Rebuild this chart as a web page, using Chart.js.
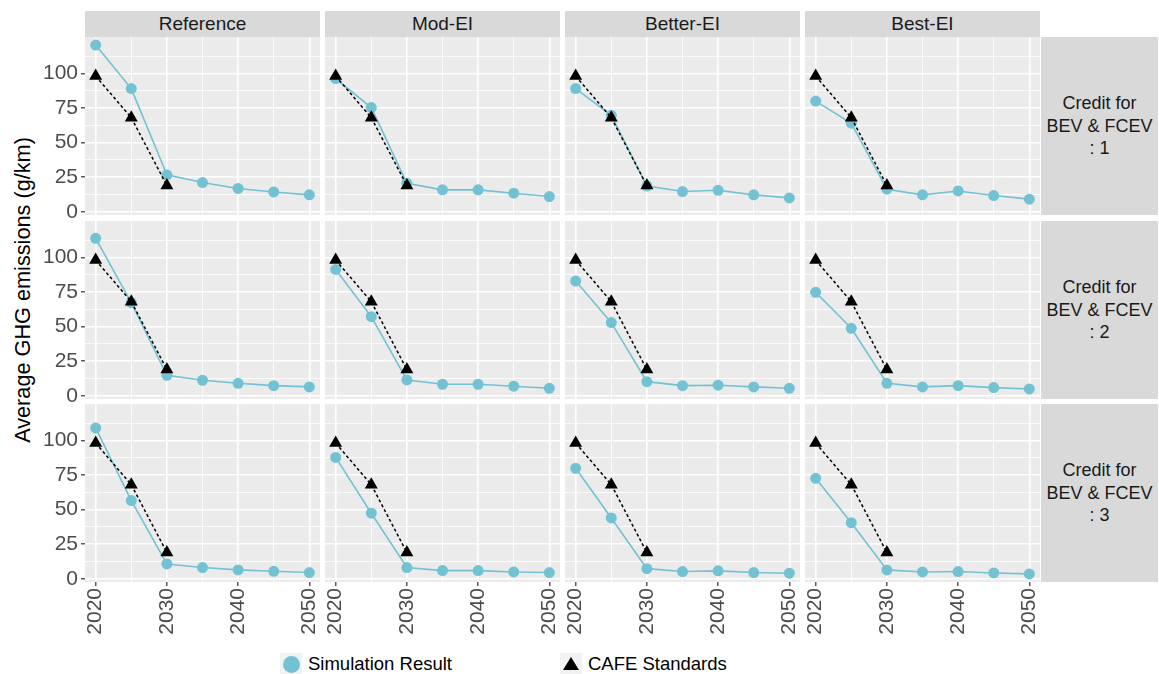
<!DOCTYPE html>
<html>
<head>
<meta charset="utf-8">
<script src="https://cdn.jsdelivr.net/npm/chart.js@4.4.1/dist/chart.umd.min.js"></script>
<style>
    body { margin: 0; background: #fff; font-family: "Liberation Sans", Arial, sans-serif; }
    #wrap { position: relative; width: 1159px; height: 674px; overflow: hidden; }
    .panel { position: absolute; }
    .strip-top { position: absolute; height: 26px; background: #D9D9D9; color: #1A1A1A;
        font-size: 19px; line-height: 26px; text-align: center; }
    .strip-right { position: absolute; width: 117px; background: #D9D9D9; color: #1A1A1A;
        font-size: 18px; line-height: 22.5px; text-align: center;
        display: flex; align-items: center; justify-content: center; }
    #ytitle { position: absolute; left: 23px; top: 290px; transform: translate(-50%, -50%) rotate(-90deg);
        white-space: nowrap; font-size: 21.7px; color: #000; }
    .legend-item { position: absolute; top: 653px; height: 22px; display: flex; align-items: center;
        font-size: 18.5px; color: #000; white-space: nowrap; }
    .key { width: 22px; height: 22px; background: #F2F2F2; position: relative; margin-right: 6px; }
    .key.circle::after { content: ""; position: absolute; left: 2.5px; top: 2.5px; width: 17px; height: 17px;
        border-radius: 50%; background: #73C2D3; }
    .key.tri::after { content: ""; position: absolute; left: 3px; top: 4px; width: 0; height: 0;
        border-left: 8px solid transparent; border-right: 8px solid transparent; border-bottom: 13px solid #000; }
</style>
</head>
<body>
<div id="wrap">
    <div id="ytitle">Average GHG emissions (g/km)</div>
</div>
<script>
// Facets
const scenarios = ['Reference', 'Mod-EI', 'Better-EI', 'Best-EI'];
const credits = ['1', '2', '3'];

// x values
const years = [2020, 2025, 2030, 2035, 2040, 2045, 2050];
const cafeYears = [2020, 2025, 2030];
const xTickValues = [2020, 2025, 2030, 2035, 2040, 2045, 2050];
const xTickLabels = ['2020', '', '2030', '', '2040', '', '2050'];
const yTickValues = [0, 12.5, 25, 37.5, 50, 62.5, 75, 87.5, 100, 112.5];
const yTickLabels = ['0', '', '25', '', '50', '', '75', '', '100', ''];

// CAFE standards (same in every panel)
const cafe = [98, 68, 19];

// Simulation results, credit 1
const refCredit1 = [120.4, 89.0, 26.7, 21.2, 16.9, 14.4, 12.3];
const modCredit1 = [96.2, 75.3, 20.7, 15.9, 15.9, 13.5, 11.1];
const betterCredit1 = [89.0, 69.7, 18.7, 14.7, 15.6, 12.3, 10.1];
const bestCredit1 = [80.0, 64.0, 16.4, 12.3, 15.1, 11.8, 9.2];
// credit 2
const refCredit2 = [113.7, 67.3, 14.9, 11.3, 9.1, 7.4, 6.5];
const modCredit2 = [91.3, 57.2, 11.5, 8.4, 8.4, 7.0, 5.5];
const betterCredit2 = [82.9, 52.9, 10.3, 7.4, 7.7, 6.5, 5.5];
const bestCredit2 = [74.8, 48.8, 9.1, 6.5, 7.4, 6.0, 5.0];
// credit 3
const refCredit3 = [109.0, 56.5, 10.8, 8.2, 6.5, 5.5, 4.6];
const modCredit3 = [87.7, 47.4, 8.2, 6.0, 6.0, 5.0, 4.6];
const betterCredit3 = [79.8, 44.0, 7.4, 5.3, 5.8, 4.6, 4.1];
const bestCredit3 = [72.6, 40.6, 6.5, 5.0, 5.3, 4.3, 3.6];

const simGrid = [
    [refCredit1, modCredit1, betterCredit1, bestCredit1],
    [refCredit2, modCredit2, betterCredit2, bestCredit2],
    [refCredit3, modCredit3, betterCredit3, bestCredit3]
];

// Layout (pixels)
const colLeft = [85, 325, 565, 805];
const rowTop = [37, 221, 404];
const panelW = 235;
const panelH = 178;
const yAxisW = 50;
const xAxisH = 60;
const labelRoom = 12;   // blank room under left panels so the "0" label is not clipped

const simColor = '#73C2D3';
const tickColor = '#333333';
const labelColor = '#4D4D4D';

// ggplot-like 5% expansion of shared y range
const allValues = simGrid.flat(2).concat(cafe);
const yLo = Math.min(...allValues);
const yHi = Math.max(...allValues);
const yPad = (yHi - yLo) * 0.05;
const xPad = (years[years.length - 1] - years[0]) * 0.05;

const panelBackground = {
    id: 'panelBackground',
    beforeDraw(chart) {
        const { ctx, chartArea } = chart;
        ctx.save();
        ctx.fillStyle = '#EBEBEB';
        ctx.fillRect(chartArea.left, chartArea.top, chartArea.right - chartArea.left, chartArea.bottom - chartArea.top);
        ctx.restore();
    }
};

// force exact axis size and no label overflow padding
function fixSize(scale, size, horizontal) {
    if (horizontal) scale.height = size; else scale.width = size;
    scale.paddingTop = 0;
    scale.paddingBottom = 0;
    scale.paddingLeft = 0;
    scale.paddingRight = 0;
}

const wrap = document.getElementById('wrap');

function makePanel(row, col) {
    const showY = col === 0;
    const showX = row === rowTop.length - 1;
    const bottomRoom = showX ? xAxisH : (showY ? labelRoom : 0);
    const div = document.createElement('div');
    div.className = 'panel';
    const left = colLeft[col] - (showY ? yAxisW : 0);
    const width = panelW + (showY ? yAxisW : 0);
    const height = panelH + bottomRoom;
    div.style.left = left + 'px';
    div.style.top = rowTop[row] + 'px';
    div.style.width = width + 'px';
    div.style.height = height + 'px';
    const canvas = document.createElement('canvas');
    div.appendChild(canvas);
    wrap.appendChild(div);

    const sim = simGrid[row][col];

    new Chart(canvas, {
        type: 'line',
        data: {
            datasets: [
                {
                    label: 'CAFE Standards',
                    data: cafeYears.map((x, i) => ({ x, y: cafe[i] })),
                    borderColor: '#000',
                    backgroundColor: '#000',
                    borderWidth: 1.5,
                    borderDash: [3, 2.5],
                    pointStyle: 'triangle',
                    pointRadius: 7.5,
                    pointBorderWidth: 0,
                    order: 0
                },
                {
                    label: 'Simulation Result',
                    data: years.map((x, i) => ({ x, y: sim[i] })),
                    borderColor: simColor,
                    backgroundColor: simColor,
                    borderWidth: 1.6,
                    pointStyle: 'circle',
                    pointRadius: 5.5,
                    pointBorderWidth: 0,
                    order: 1
                }
            ]
        },
        options: {
            responsive: true,
            maintainAspectRatio: false,
            animation: false,
            layout: { padding: 0, autoPadding: false },
            plugins: {
                legend: { display: false },
                tooltip: { enabled: false }
            },
            scales: {
                x: {
                    type: 'linear',
                    min: years[0] - xPad,
                    max: years[years.length - 1] + xPad,
                    afterBuildTicks: (scale) => { scale.ticks = xTickValues.map(v => ({ value: v })); },
                    afterFit: (scale) => fixSize(scale, bottomRoom, true),
                    border: { display: false },
                    grid: {
                        color: '#FFFFFF',
                        lineWidth: (c) => (c.tick && c.tick.value % 10 === 0) ? 1.6 : 0.8,
                        drawTicks: showX,
                        tickLength: 4,
                        tickColor: (c) => (c.tick && c.tick.value % 10 === 0) ? tickColor : 'rgba(0,0,0,0)',
                        tickWidth: 1.2
                    },
                    ticks: {
                        display: showX,
                        autoSkip: false,
                        minRotation: 90,
                        maxRotation: 90,
                        padding: 2,
                        color: labelColor,
                        font: { family: 'Liberation Sans', size: 21 },
                        callback: (v, i) => xTickLabels[i]
                    }
                },
                y: {
                    type: 'linear',
                    min: yLo - yPad,
                    max: yHi + yPad,
                    afterBuildTicks: (scale) => { scale.ticks = yTickValues.map(v => ({ value: v })); },
                    afterFit: (scale) => fixSize(scale, showY ? yAxisW : 0, false),
                    border: { display: false },
                    grid: {
                        color: '#FFFFFF',
                        lineWidth: (c) => (c.tick && c.tick.value % 25 === 0) ? 1.6 : 0.8,
                        drawTicks: showY,
                        tickLength: 4,
                        tickColor: (c) => (c.tick && c.tick.value % 25 === 0) ? tickColor : 'rgba(0,0,0,0)',
                        tickWidth: 1.2
                    },
                    ticks: {
                        display: showY,
                        autoSkip: false,
                        padding: 3,
                        color: labelColor,
                        font: { family: 'Liberation Sans', size: 21 },
                        callback: (v, i) => yTickLabels[i]
                    }
                }
            }
        },
        plugins: [panelBackground]
    });
}

for (let r = 0; r < rowTop.length; r++) {
    for (let c = 0; c < colLeft.length; c++) {
        makePanel(r, c);
    }
}

// Strips
scenarios.forEach((name, c) => {
    const s = document.createElement('div');
    s.className = 'strip-top';
    s.style.left = colLeft[c] + 'px';
    s.style.top = '11px';
    s.style.width = panelW + 'px';
    s.textContent = name;
    wrap.appendChild(s);
});
credits.forEach((cr, r) => {
    const s = document.createElement('div');
    s.className = 'strip-right';
    s.style.left = '1041px';
    s.style.top = rowTop[r] + 'px';
    s.style.height = panelH + 'px';
    s.innerHTML = 'Credit for<br>BEV &amp; FCEV<br>: ' + cr;
    wrap.appendChild(s);
});

// Legend
const legendItems = [
    { label: 'Simulation Result', cls: 'circle', left: 280 },
    { label: 'CAFE Standards', cls: 'tri', left: 560 }
];
legendItems.forEach(item => {
    const d = document.createElement('div');
    d.className = 'legend-item';
    d.style.left = item.left + 'px';
    const k = document.createElement('span');
    k.className = 'key ' + item.cls;
    const t = document.createElement('span');
    t.textContent = item.label;
    d.appendChild(k);
    d.appendChild(t);
    wrap.appendChild(d);
});
</script>
</body>
</html>
